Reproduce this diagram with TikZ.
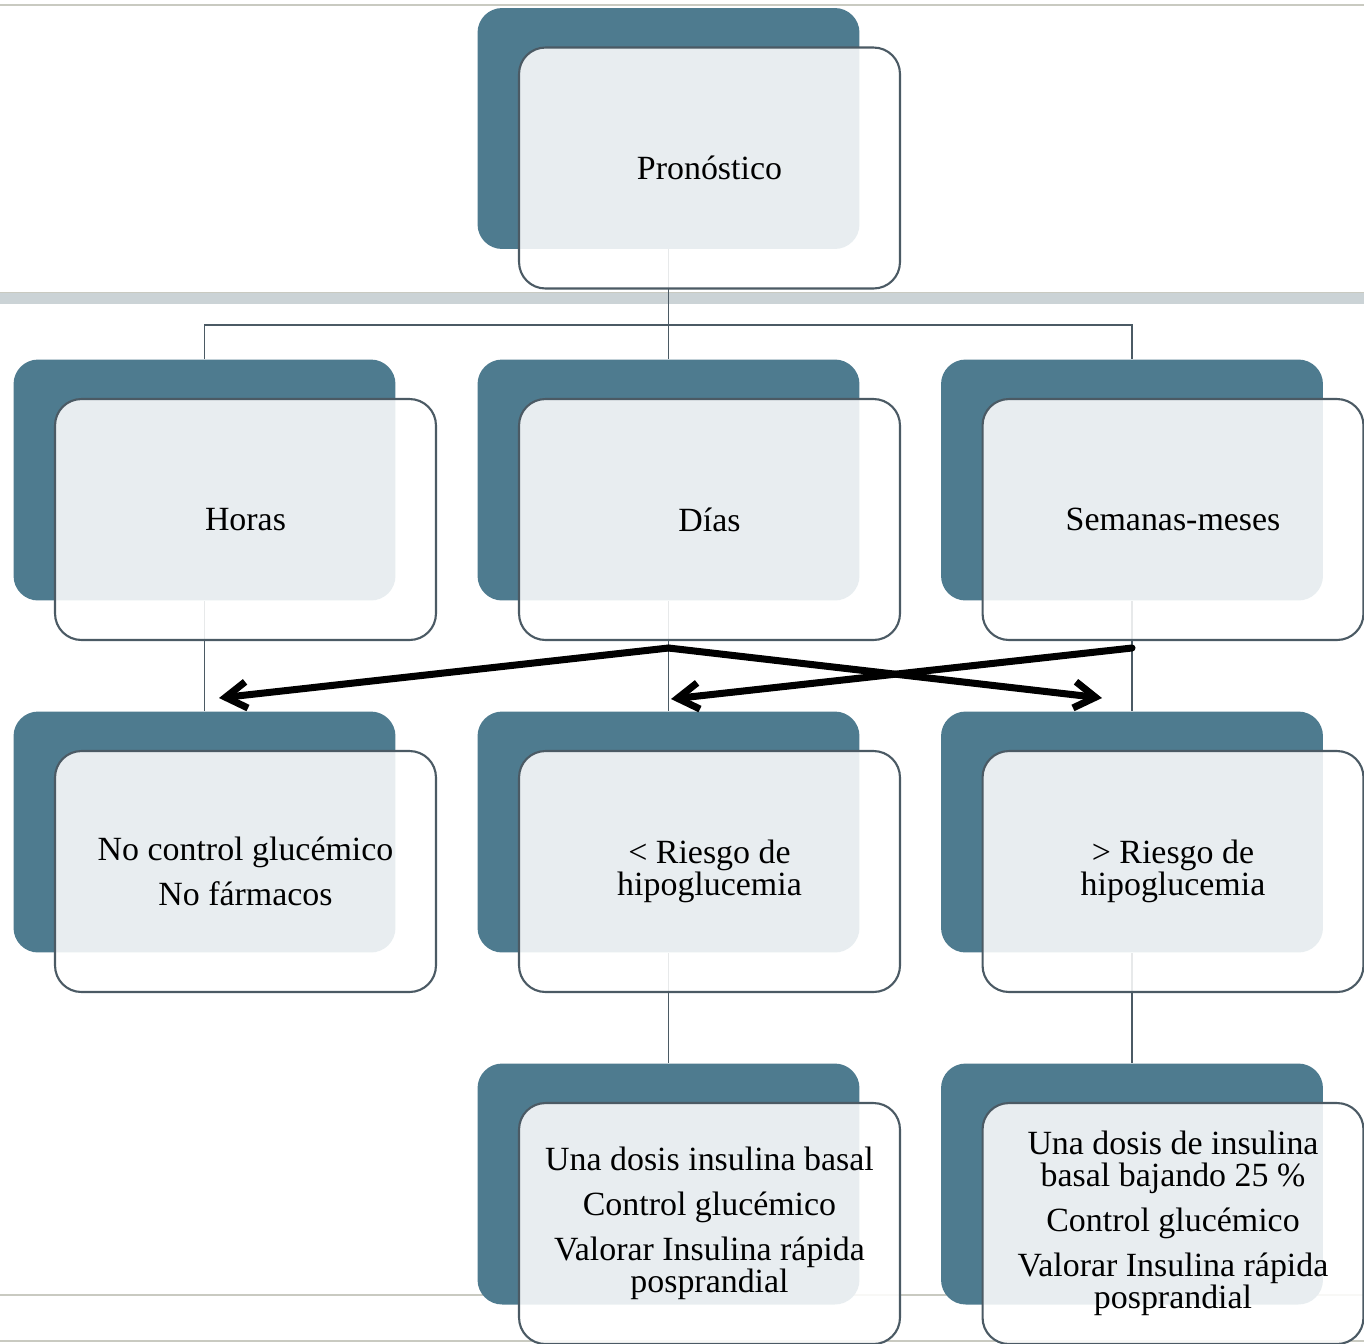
\documentclass[tikz,border=0pt]{standalone}
\usepackage{fontspec}
\setmainfont{Liberation Serif}
\usetikzlibrary{arrows.meta}
\definecolor{slate}{HTML}{4E7B8F}
\definecolor{edge}{HTML}{4B5A64}
\definecolor{rule}{HTML}{C9CAC1}
\definecolor{band}{HTML}{CBD3D6}

\begin{document}
\begin{tikzpicture}[x=0.02cm,y=-0.02cm,
    backcard/.style={fill=slate,rounded corners=14pt,minimum width=7.64cm,minimum height=4.82cm,inner sep=0pt},
    frontcard/.style={draw=edge,line width=1.2pt,fill=white,fill opacity=.87,text opacity=1,rounded corners=15pt,
      minimum width=7.62cm,minimum height=4.82cm,inner sep=0pt,align=center,font=\fontsize{19.3}{18.2}\selectfont},
    link/.style={draw=edge,line width=1pt},
    jump/.style={->,line width=4pt,line cap=round,line join=round},
    >={Straight Barb[length=12pt,width=15pt]}]
        \useasboundingbox (0,0) rectangle (1364,1343);
        % slide rules
        \draw[rule,line width=1.2pt] (0,5) -- (1364,5);
        \fill[band] (0,292) rectangle (1364,304);
        \draw[rule] (0,292) -- (1364,292);
        \draw[rule,line width=1.2pt] (0,1295) -- (1364,1295);
        \draw[rule,line width=1.2pt] (0,1341) -- (1364,1341);

        % back cards
        \node[backcard] (pronB) at (668.5,128.5) {};
        \node[backcard] (horasB) at (204.5,480) {};
        \node[backcard] (diasB) at (668.5,480) {};
        \node[backcard] (semB) at (1132,480) {};
        \node[backcard] (noctlB) at (204.5,832) {};
        \node[backcard] (menosB) at (668.5,832) {};
        \node[backcard] (masB) at (1132,832) {};
        \node[backcard] (dosisB) at (668.5,1184) {};
        \node[backcard] (dosis25B) at (1132,1184) {};

        % tree links
        \coordinate (fork) at (668.5,325);
        \draw[link] (pronB.south) -- (fork);
        \draw[link] (horasB.north) |- (fork) -| (semB.north);
        \draw[link] (diasB.north) -- (fork);
        \draw[link] (horasB.south) -- (noctlB.north);
        \draw[link] (diasB.south) -- (menosB.north);
        \draw[link] (semB.south) -- (masB.north);
        \draw[link] (menosB.south) -- (dosisB.north);
        \draw[link] (masB.south) -- (dosis25B.north);

        % front cards
        \node[frontcard] (pron) at ([shift={(41,39.5)}]pronB) {Pronóstico};
        \node[frontcard] (horas) at ([shift={(41,39.5)}]horasB) {Horas};
        \node[frontcard] (dias) at ([shift={(41,39.5)}]diasB) {Días};
        \node[frontcard] (sem) at ([shift={(41,39.5)}]semB) {Semanas-meses};
        \node[frontcard] (noctl) at ([shift={(41,39.5)}]noctlB) {No control glucémico\\[7.4pt] No fármacos};
        \node[frontcard] (menos) at ([shift={(41,39.5)}]menosB) {< Riesgo de\\hipoglucemia};
        \node[frontcard] (mas) at ([shift={(41,39.5)}]masB) {> Riesgo de\\hipoglucemia};
        \node[frontcard] (dosis) at ([shift={(41,39.5)}]dosisB) {Una dosis insulina basal\\[7.4pt] Control glucémico\\[7.4pt] Valorar Insulina rápida\\posprandial};
        \node[frontcard] (dosis25) at ([shift={(41,39.5)}]dosis25B) {Una dosis de insulina\\basal bajando 25 \%\\[7.4pt] Control glucémico\\[7.4pt] Valorar Insulina rápida\\posprandial};

        % crossing arrows
        \coordinate (fromDias) at (668.5,648);
        \coordinate (fromSem) at (1132,648);
        \coordinate (toHoras) at (219,698);
        \coordinate (toMenos) at (671,699);
        \coordinate (toMas) at (1102,698);
        \draw[jump] (fromDias) -- (toHoras);
        \draw[jump] (fromDias) -- (toMas);
        \draw[jump] (fromSem) -- (toMenos);
      \end{tikzpicture}
\end{document}
